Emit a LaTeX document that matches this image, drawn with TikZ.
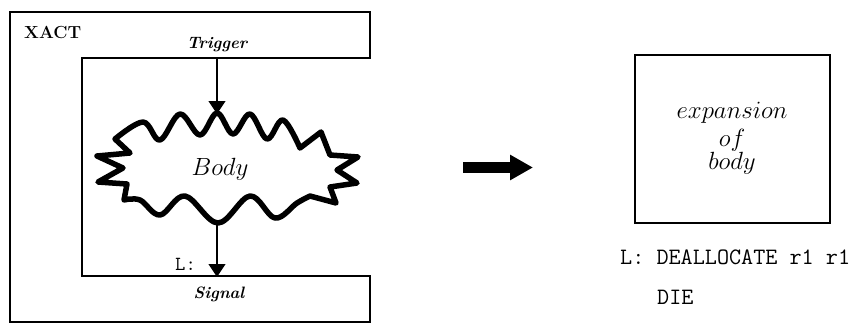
\documentclass[tikz,border=0pt]{standalone}
\usepackage{fontspec}
\setmainfont{Latin Modern Roman}
\setmonofont{Latin Modern Mono}
\usetikzlibrary{arrows.meta}
\begin{document}
\begin{tikzpicture}[x=1pt,y=-1pt,
  frame/.style={line width=1.6pt, line join=miter},
  flow/.style={line width=1.3pt, -{Triangle[length=13pt,width=17pt]}},
  cloudline/.style={line width=5.5pt, line join=round, fill=white},
  lbl/.style={inner sep=0pt, anchor=base},
  tt/.style={inner sep=0pt, anchor=base west, font=\fontsize{23.5}{28}\selectfont\ttfamily}]
\useasboundingbox (0,0) rectangle (866,324);
% outer C-shaped frame
\draw[frame] (10,12) -- (370,12) -- (370,58) -- (82,58) -- (82,276) -- (370,276) -- (370,322) -- (10,322) -- cycle;
\node[lbl, anchor=base west, font=\fontsize{17.5}{20}\selectfont\bfseries] (xact) at (24,38) {XACT};
\node[lbl, font=\fontsize{16.5}{19}\selectfont\bfseries\itshape] (trig) at (217,48) {Trigger};
\node[lbl, font=\fontsize{16.5}{19}\selectfont\bfseries\itshape] (sig) at (219,298) {Signal};
% cloud
\draw[cloudline] plot[smooth, tension=0.6] coordinates {(115,139) (143,122) (160,140) (180,114) (200,135) (217,113) (233,134) (250,114) (267,139) (283,120) (300,148)}
  -- (321,132) -- (330,155) -- (358,157) -- (337,170) -- (357,183) -- (330,187) -- (336,203) -- (310,196)
  -- plot[smooth, tension=0.6] coordinates {(310,196) (297,203) (275,218) (250,196) (218,223) (185,196) (160,215) (140,200) (124,200)}
  -- (127,184) -- (98,182) -- (123,168) -- (97,156) -- (130,153) -- cycle;
\node[lbl, font=\fontsize{24.5}{28}\selectfont] (body) at (220,175) {$Body$};
\coordinate (tin) at (217,58);
\coordinate (ctop) at (217,114);
\coordinate (cbot) at (217,224);
\coordinate (sout) at (217,277);
\draw[flow] (tin) -- (ctop);
\draw[flow] (cbot) -- (sout);
\node[lbl, anchor=base west, font=\fontsize{20}{22}\selectfont\ttfamily\bfseries] (lab) at (175,270) {L:};
% big arrow
\coordinate (ga) at (463,167.5);
\coordinate (gb) at (533,167.5);
\draw[line width=11pt, -{Triangle[length=23pt,width=24pt]}] (ga) -- (gb);
% expansion box
\draw[frame] (635,55) rectangle (830,223);
\node[lbl, font=\fontsize{26}{28}\selectfont] (e1) at (732,118) {$expansion$};
\node[lbl, font=\fontsize{26}{28}\selectfont] (e2) at (732,146) {$of$};
\node[lbl, font=\fontsize{26}{28}\selectfont] (e3) at (732,169) {$body$};
\node[tt] (dealloc) at (620,264) {L: DEALLOCATE r1 r1};
\node[tt] (die) at (657,304) {DIE};
\end{tikzpicture}
\end{document}
